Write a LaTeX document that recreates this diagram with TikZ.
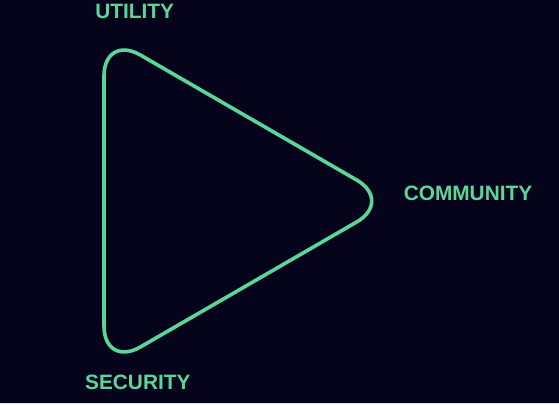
\documentclass[tikz,border=0pt]{standalone}
\usepackage{fontspec}
\setmainfont{Liberation Sans}
\definecolor{bgNavy}{HTML}{06041A}
\definecolor{mintGreen}{HTML}{5AD69B}
\begin{document}
\begin{tikzpicture}[x=1pt, y=-1pt,
  labelStyle/.style={text=mintGreen, font=\fontsize{20.8}{23}\selectfont\bfseries, inner sep=0pt},
  edgeStyle/.style={draw=mintGreen, line width=3.6pt, rounded corners=42pt}
]
\fill [bgNavy] (0, 0) rectangle (559, 404);
\fill [black!12] (0, 403) rectangle (559, 404);
\useasboundingbox (0, 0) rectangle (559, 404);

\coordinate (topCorner)    at (104, 34);
\coordinate (bottomCorner) at (104, 368);
\coordinate (rightCorner)  at (393, 201);

\draw [edgeStyle] (104, 201) -- (topCorner) -- (rightCorner) -- (bottomCorner) -- cycle;

\node [labelStyle] (utility)   at (134.7, 11.7) {UTILITY};
\node [labelStyle] (community) at (468, 193.7)  {COMMUNITY};
\node [labelStyle] (security)  at (137.8, 382)  {SECURITY};
\end{tikzpicture}
\end{document}
